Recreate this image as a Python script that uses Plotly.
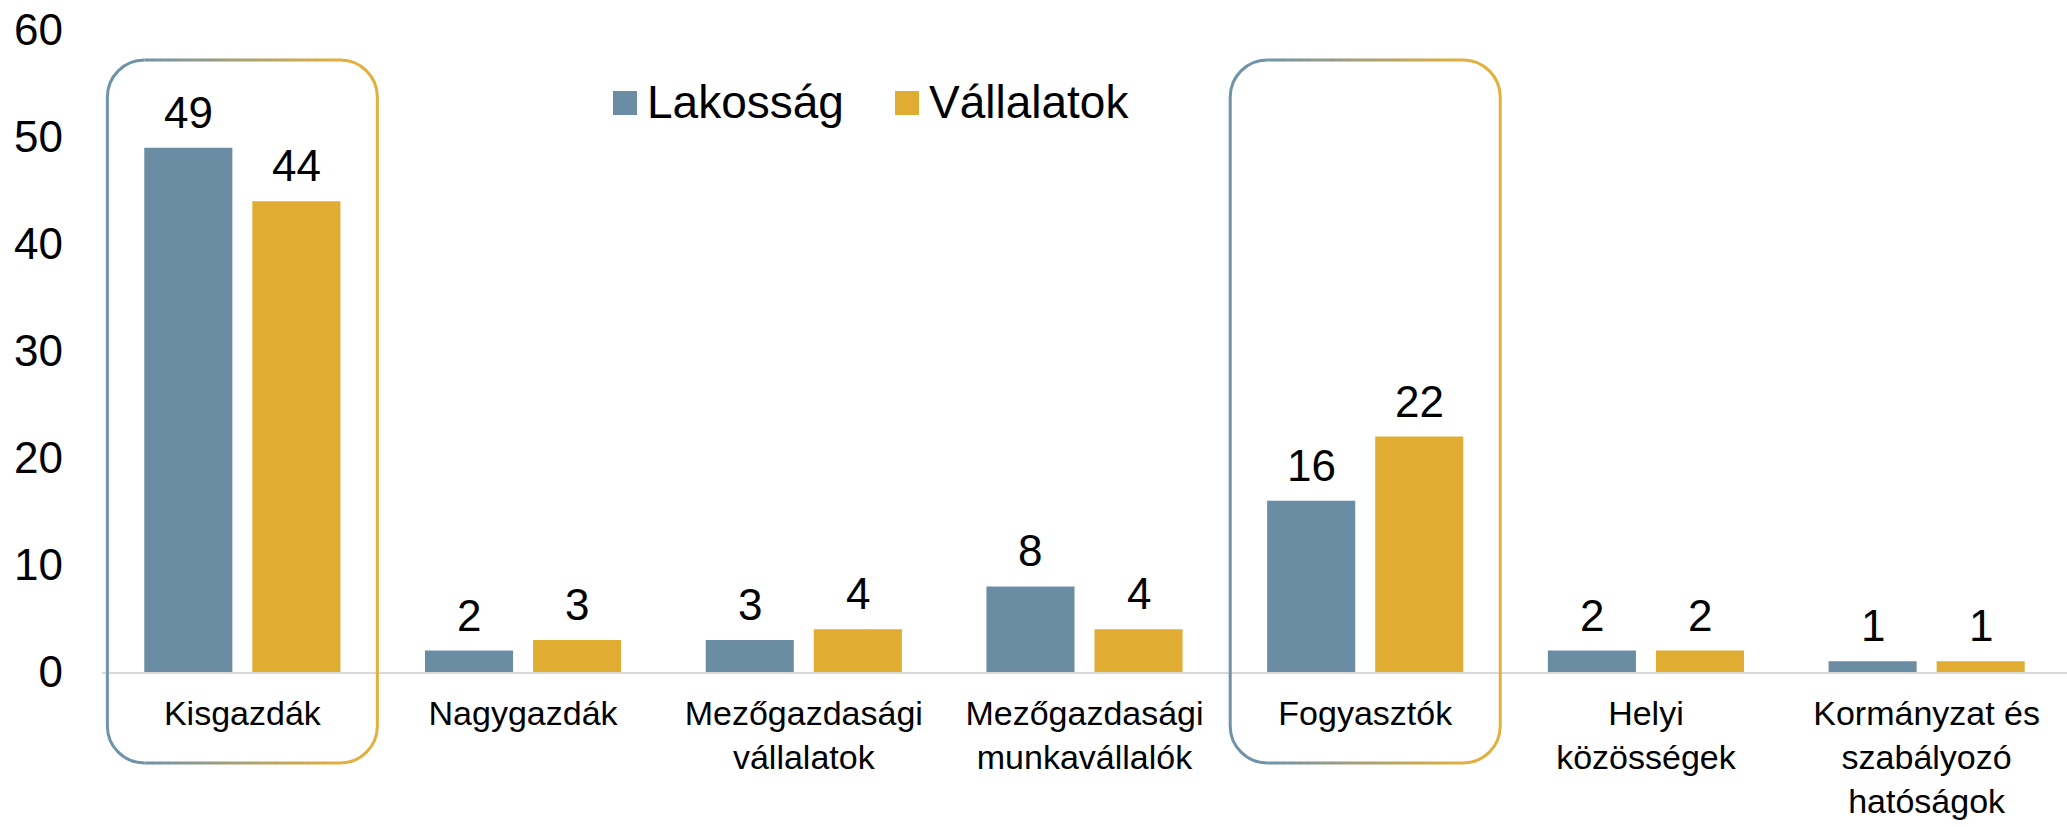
import plotly.graph_objects as go

# ---- data ----
categories = ["Kisgazdák", "Nagygazdák", "Mezőgazdasági<br>vállalatok",
              "Mezőgazdasági<br>munkavállalók", "Fogyasztók",
              "Helyi<br>közösségek", "Kormányzat és<br>szabályozó<br>hatóságok"]
series_names = ["Lakosság", "Vállalatok"]
lakossag = [49, 2, 3, 8, 16, 2, 1]
vallalatok = [44, 3, 4, 4, 22, 2, 1]
highlighted = [0, 4]  # indices of boxed categories

# ---- layout geometry (page pixels; body margin removed by post_script) ----
W, H = 2067, 827
PLOT_L, PLOT_T, PLOT_B, PLOT_R = 102, 30, 672, 2067
ML, MT, MB, MR = PLOT_L, PLOT_T, H - PLOT_B, W - PLOT_R
PW, PH = W - ML - MR, H - MT - MB
catw = PW / len(categories)

FONT = "Arial, 'Liberation Sans', sans-serif"
BLUE = "#6A8DA3"
GOLD = "#E0AC32"
BOX_BLUE = (0x6E, 0x93, 0xAB)
BOX_GOLD = (0xE2, 0xB0, 0x3C)
BARGAP, GROUPGAP = 0.23, 0.185

fig = go.Figure()
for name, vals, col in [(series_names[0], lakossag, BLUE), (series_names[1], vallalatok, GOLD)]:
    fig.add_trace(go.Bar(x=categories, y=vals, name=name, marker=dict(color=col, line=dict(width=0)),
                         showlegend=False, hoverinfo="x+y+name"))

# data labels as annotations above each bar
slot = catw * (1 - BARGAP) / 2
for k, vals in enumerate([lakossag, vallalatok]):
    off = (k - 0.5) * slot
    for c, v in zip(categories, vals):
        fig.add_annotation(x=c, y=v, text=str(v), showarrow=False, xref="x", yref="y",
                           xshift=off, yanchor="bottom", yshift=9,
                           font=dict(family=FONT, size=44, color="#000000"))

def px2paper(xp, yp):
    return (xp - PLOT_L) / PW, (PLOT_B - yp) / PH

def mix(a, b, t):
    return "rgb(%d,%d,%d)" % tuple(round(a[i] + (b[i] - a[i]) * t) for i in range(3))

shapes = []
def rounded_box(i):
    cx = PLOT_L + (i + 0.5) * catw
    hw = 135
    x0, x1 = cx - hw, cx + hw
    y0, y1 = 60, 763
    r = 37
    k = 0.5523 * r
    def P(x, y):
        px, py = px2paper(x, y)
        return "%.5f,%.5f" % (px, py)
    lw = 3
    left = ("M" + P(x0 + r, y0) + " C" + P(x0 + r - k, y0) + " " + P(x0, y0 + r - k) + " " + P(x0, y0 + r)
            + " L" + P(x0, y1 - r) + " C" + P(x0, y1 - r + k) + " " + P(x0 + r - k, y1) + " " + P(x0 + r, y1))
    right = ("M" + P(x1 - r, y0) + " C" + P(x1 - r + k, y0) + " " + P(x1, y0 + r - k) + " " + P(x1, y0 + r)
             + " L" + P(x1, y1 - r) + " C" + P(x1, y1 - r + k) + " " + P(x1 - r + k, y1) + " " + P(x1 - r, y1))
    shapes.append(dict(type="path", xref="paper", yref="paper", path=left,
                       line=dict(color=mix(BOX_BLUE, BOX_GOLD, 0), width=lw), layer="above"))
    shapes.append(dict(type="path", xref="paper", yref="paper", path=right,
                       line=dict(color=mix(BOX_BLUE, BOX_GOLD, 1), width=lw), layer="above"))
    n = 24
    for yy in (y0, y1):
        for s in range(n):
            xa = x0 + r + (x1 - x0 - 2 * r) * s / n
            xb = x0 + r + (x1 - x0 - 2 * r) * (s + 1) / n + 0.5
            pa = px2paper(xa, yy)
            pb = px2paper(xb, yy)
            shapes.append(dict(type="line", xref="paper", yref="paper", x0=pa[0], y0=pa[1], x1=pb[0], y1=pb[1],
                               line=dict(color=mix(BOX_BLUE, BOX_GOLD, (s + 0.5) / n), width=lw), layer="above"))

for i in highlighted:
    rounded_box(i)

# manual legend (large square swatches)
legend_items = [(series_names[0], BLUE, 613), (series_names[1], GOLD, 895)]
for name, col, lx in legend_items:
    ax0, ay0 = px2paper(lx, 115)
    ax1, ay1 = px2paper(lx + 24, 91)
    shapes.append(dict(type="rect", xref="paper", yref="paper", x0=ax0, y0=ay0, x1=ax1, y1=ay1,
                       line=dict(width=0), fillcolor=col))
    tx, ty = px2paper(lx + 32, 102)
    fig.add_annotation(x=tx, y=ty, xref="paper", yref="paper", text=name, showarrow=False,
                       xanchor="left", yanchor="middle", font=dict(family=FONT, size=46, color="#000000"))

fig.update_layout(
    width=W, height=H,
    margin=dict(l=ML, r=MR, t=MT, b=MB, autoexpand=False),
    barmode="group", bargap=BARGAP, bargroupgap=GROUPGAP,
    plot_bgcolor="white", paper_bgcolor="white",
    font=dict(family=FONT, color="#000000"),
    shapes=shapes,
    showlegend=False,
)
fig.update_xaxes(showline=True, linecolor="#D9D9D9", linewidth=2, showgrid=False, zeroline=False,
                 tickfont=dict(family=FONT, size=34, color="#000000"), ticks="", ticklabelstandoff=10,
                 automargin=False)
fig.update_yaxes(range=[0, 60], dtick=10, showgrid=False, zeroline=False, showline=False, ticks="",
                 tickfont=dict(family=FONT, size=44, color="#000000"), ticklabelstandoff=38,
                 ticklabeloverflow="allow", automargin=False)

fig.write_html("out.html", config={"displayModeBar": False},
               post_script="document.body.style.margin='0';")
